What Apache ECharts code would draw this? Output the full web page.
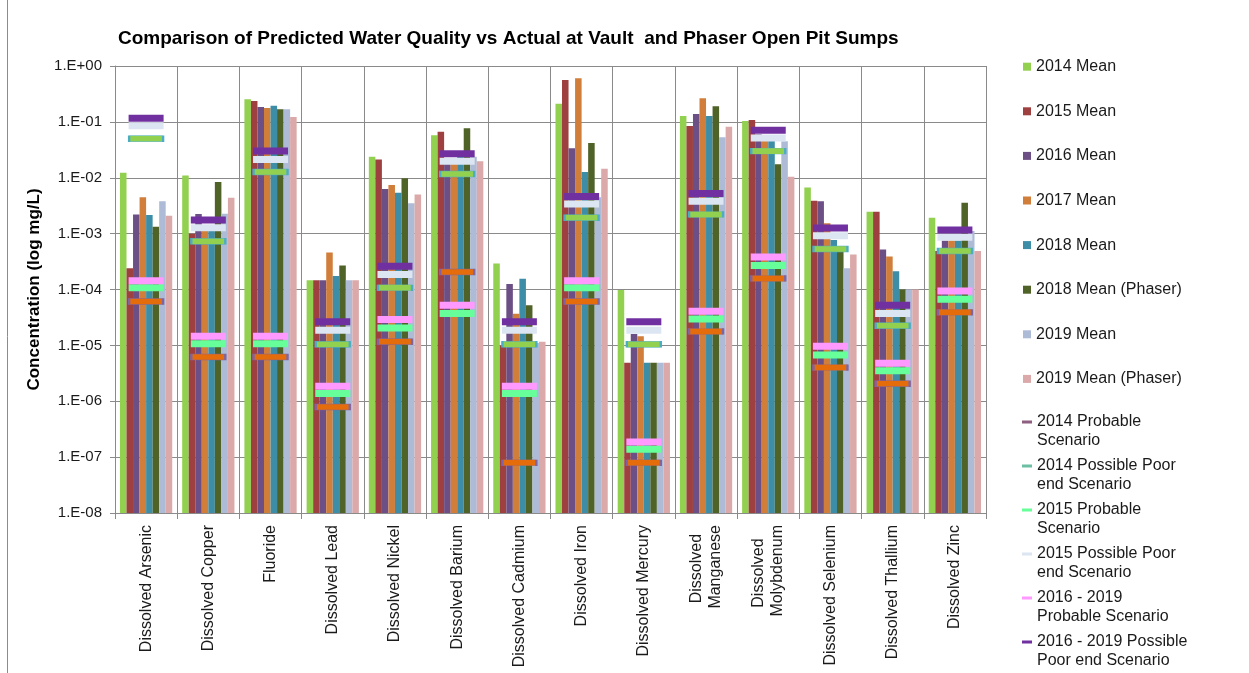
<!DOCTYPE html>
<html>
<head>
<meta charset="utf-8">
<script src="https://cdn.jsdelivr.net/npm/echarts@6/dist/echarts.min.js"></script>
<style>
  html, body { margin: 0; padding: 0; background: #fff; }
  #chart { width: 1249px; height: 673px; }
</style>
</head>
<body>
<div id="chart"></div>
<script>
// Analytes sampled at the sumps
const categories = [
  'Dissolved Arsenic', 'Dissolved Copper', 'Fluoride', 'Dissolved Lead',
  'Dissolved Nickel', 'Dissolved Barium', 'Dissolved Cadmium', 'Dissolved Iron',
  'Dissolved Mercury', 'Dissolved\nManganese', 'Dissolved\nMolybdenum',
  'Dissolved Selenium', 'Dissolved Thallium', 'Dissolved Zinc'
];

// Measured means (mg/L)
const mean2014 = [0.0123, 0.0110, 0.253, 1.46e-4, 0.0238, 0.0574, 2.93e-4, 0.211, 9.8e-5, 0.127, 0.104, 6.7e-3, 2.46e-3, 1.92e-3];
const mean2015 = [2.4e-4, 1.0e-3, 0.236, 1.46e-4, 0.0213, 0.0667, 1.0e-5, 0.561, 4.9e-6, 0.0843, 0.108, 3.87e-3, 2.46e-3, 4.9e-4];
const mean2016 = [2.2e-3, 2.24e-3, 0.184, 1.46e-4, 6.3e-3, 0.022, 1.26e-4, 0.0336, 1.59e-5, 0.138, 0.060, 3.78e-3, 5.2e-4, 7.5e-4];
const mean2017 = [4.46e-3, 1.2e-3, 0.177, 4.6e-4, 7.4e-3, 0.020, 3.7e-5, 0.602, 1.46e-5, 0.264, 0.055, 1.53e-3, 3.9e-4, 7.5e-4];
const mean2018 = [2.15e-3, 1.2e-3, 0.195, 1.74e-4, 5.4e-3, 0.024, 1.56e-4, 0.01265, 4.9e-6, 0.127, 0.050, 7.7e-4, 2.13e-4, 7.5e-4];
const mean2018Phaser = [1.33e-3, 8.4e-3, 0.168, 2.7e-4, 9.8e-3, 0.0766, 5.2e-5, 0.0418, 4.9e-6, 0.190, 0.0174, 5.5e-4, 1.0e-4, 3.57e-3];
const mean2019 = [3.78e-3, 2.27e-3, 0.168, 1.46e-4, 3.48e-3, 0.0238, 1.1e-5, 4.5e-3, 4.9e-6, 0.0529, 0.045, 2.39e-4, 1.0e-4, 1.11e-3];
const mean2019Phaser = [2.09e-3, 4.39e-3, 0.122, 1.46e-4, 5.0e-3, 0.0197, 1.16e-5, 0.0145, 4.9e-6, 0.082, 0.0104, 4.25e-4, 1.0e-4, 4.9e-4];

// Predicted scenarios (mg/L)
const probable2014 = [6.1e-5, 6.2e-6, 6.2e-6, 7.9e-7, 1.16e-5, 2.05e-4, 7.9e-8, 6.1e-5, 7.9e-8, 1.78e-5, 1.58e-4, 4.0e-6, 2.05e-6, 3.9e-5];
const poorEnd2014 = [0.050, 7.3e-4, 0.01265, 1.05e-5, 1.07e-4, 0.01165, 1.05e-5, 1.92e-3, 1.05e-5, 2.21e-3, 0.030, 5.3e-4, 2.24e-5, 4.9e-4];
const probable2015 = [1.07e-4, 1.07e-5, 1.07e-5, 1.38e-6, 2.04e-5, 3.73e-5, 1.38e-6, 1.07e-4, 1.39e-7, 2.95e-5, 2.7e-4, 6.7e-6, 3.5e-6, 6.7e-5];
const poorEnd2015 = [0.085, 1.27e-3, 0.0213, 1.87e-5, 1.86e-4, 0.0197, 1.87e-5, 3.38e-3, 1.87e-5, 3.78e-3, 0.0514, 9.2e-4, 3.73e-5, 8.6e-4];
const probable2016to2019 = [1.43e-4, 1.46e-5, 1.46e-5, 1.86e-6, 2.9e-5, 5.2e-5, 1.86e-6, 1.43e-4, 1.87e-7, 4.1e-5, 3.8e-4, 9.6e-6, 4.8e-6, 9.4e-5];
const poorEnd2016to2019 = [0.116, 1.75e-3, 0.030, 2.64e-5, 2.6e-4, 0.0269, 2.64e-5, 4.64e-3, 2.64e-5, 5.25e-3, 0.0706, 1.26e-3, 5.2e-5, 1.16e-3];

const barSeriesDefs = [
  { name: '2014 Mean', data: mean2014, color: '#92D050' },
  { name: '2015 Mean', data: mean2015, color: '#9E4040' },
  { name: '2016 Mean', data: mean2016, color: '#6C4F85' },
  { name: '2017 Mean', data: mean2017, color: '#D17E3A' },
  { name: '2018 Mean', data: mean2018, color: '#3D8DA6' },
  { name: '2018 Mean (Phaser)', data: mean2018Phaser, color: '#4F6228' },
  { name: '2019 Mean', data: mean2019, color: '#AEBBD7' },
  { name: '2019 Mean (Phaser)', data: mean2019Phaser, color: '#DBA9A9' }
];

const scenarioDefs = [
  { name: '2014 Probable Scenario', label: '2014 Probable\nScenario', data: probable2014,
    fill: '#E46C0A', border: '#8064A2', legendColor: '#8E5F80' },
  { name: '2014 Possible Poor end Scenario', label: '2014 Possible Poor\nend Scenario', data: poorEnd2014,
    fill: '#92D050', border: '#4BACC6', legendColor: '#6DBFA2' },
  { name: '2015 Probable Scenario', label: '2015 Probable\nScenario', data: probable2015,
    fill: '#66FF99', border: null, legendColor: '#66FF99' },
  { name: '2015 Possible Poor end Scenario', label: '2015 Possible Poor\nend Scenario', data: poorEnd2015,
    fill: '#DCE6F2', border: null, legendColor: '#DCE6F2' },
  { name: '2016 - 2019 Probable Scenario', label: '2016 - 2019\nProbable Scenario', data: probable2016to2019,
    fill: '#FF99FF', border: null, legendColor: '#FF99FF' },
  { name: '2016 - 2019 Possible Poor end Scenario', label: '2016 - 2019 Possible\nPoor end Scenario', data: poorEnd2016to2019,
    fill: '#7030A0', border: null, legendColor: '#7030A0' }
];

const FONT = '"Liberation Sans", Arial, sans-serif';
const GRID_COLOR = '#8A8A8A';
const CAT_FONT_SIZE = 16;
const LABEL_COLOR = '#1A1A1A';

function sciLabel(v) {
  const e = Math.round(Math.log10(v));
  const sign = e < 0 ? '-' : '+';
  const abs = Math.abs(e);
  return '1.E' + sign + (abs < 10 ? '0' + abs : String(abs));
}

// Wrapped category names: the labels are end-aligned, so pad the shorter
// line with trailing no-break spaces to centre it under the longer one
const measureCtx = document.createElement('canvas').getContext('2d');
measureCtx.font = CAT_FONT_SIZE + 'px ' + FONT;
const NBSP = '\u00a0';
function categoryLabel(value) {
  if (value.indexOf('\n') < 0) return value;
  const lines = value.split('\n');
  const widths = lines.map(function (l) { return measureCtx.measureText(l).width; });
  const maxW = Math.max.apply(null, widths);
  const spaceW = measureCtx.measureText(NBSP).width || 4.4;
  return lines.map(function (l, i) {
    const n = Math.round((maxW - widths[i]) / 2 / spaceW);
    return l + NBSP.repeat(n);
  }).join('\n');
}

const series = [];
barSeriesDefs.forEach(function (d) {
  series.push({
    name: d.name,
    type: 'bar',
    data: d.data,
    barGap: '0%',
    barCategoryGap: '16%',
    itemStyle: { color: d.color },
    z: 2
  });
});
scenarioDefs.forEach(function (d) {
  series.push({
    name: d.name,
    type: 'scatter',
    data: d.data,
    symbol: 'rect',
    symbolSize: d.border ? [34, 6] : [35, 7],
    itemStyle: d.border
      ? { color: d.fill, borderColor: d.border, borderWidth: 1, opacity: 1 }
      : { color: d.fill, opacity: 1 },
    z: 3
  });
});

const chart = echarts.init(document.getElementById('chart'), null, { renderer: 'canvas' });
chart.setOption({
  backgroundColor: '#ffffff',
  animation: false,
  textStyle: { fontFamily: FONT },
  title: {
    text: 'Comparison of Predicted Water Quality vs Actual at Vault  and Phaser Open Pit Sumps',
    left: 118,
    top: 29,
    padding: 0,
    textStyle: { fontFamily: FONT, fontSize: 19, fontWeight: 'bold', color: '#000' }
  },
  graphic: [{
    type: 'line',
    shape: { x1: 7.5, y1: 0, x2: 7.5, y2: 673 },
    style: { stroke: '#8C8C8C', lineWidth: 1 }
  }],
  legend: [{
    orient: 'vertical',
    left: 1023,
    top: 58.7,
    padding: 0,
    itemGap: 28.6,
    itemWidth: 8,
    itemHeight: 8,
    selectedMode: false,
    textStyle: { fontFamily: FONT, fontSize: 16, lineHeight: 16, color: LABEL_COLOR },
    data: barSeriesDefs.map(function (d) { return { name: d.name, icon: 'rect' }; })
  }, {
    orient: 'vertical',
    left: 1022,
    top: 412.5,
    padding: 0,
    itemGap: 6,
    itemWidth: 10,
    itemHeight: 22,
    selectedMode: false,
    textStyle: { fontFamily: FONT, fontSize: 16, lineHeight: 19, color: LABEL_COLOR },
    formatter: function (name) {
      const d = scenarioDefs.find(function (s) { return s.name === name; });
      return d ? d.label : name;
    },
    data: scenarioDefs.map(function (d) {
      return {
        name: d.name,
        icon: 'path://M0,0L10,0L10,3L0,3Z M0,22L10,22',
        itemStyle: { color: d.legendColor, borderWidth: 0, opacity: 1 }
      };
    })
  }],
  grid: { left: 115, right: 263, top: 66, bottom: 160, containLabel: false },
  xAxis: {
    type: 'category',
    data: categories,
    boundaryGap: true,
    axisLine: { show: true, lineStyle: { color: GRID_COLOR, width: 1 } },
    axisTick: { show: true, inside: false, length: 6, alignWithLabel: false, lineStyle: { color: GRID_COLOR } },
    splitLine: { show: true, interval: 0, lineStyle: { color: GRID_COLOR, width: 1 } },
    axisLabel: {
      interval: 0,
      rotate: 90,
      margin: 12,
      fontFamily: FONT,
      fontSize: CAT_FONT_SIZE,
      lineHeight: 19,
      color: LABEL_COLOR,
      formatter: categoryLabel
    }
  },
  yAxis: {
    type: 'log',
    logBase: 10,
    min: 1e-8,
    max: 1,
    startValue: 1e-8,
    splitNumber: 8,
    name: 'Concentration (log mg/L)',
    nameLocation: 'middle',
    nameGap: 71,
    nameTextStyle: { fontFamily: FONT, fontSize: 17, fontWeight: 'bold', color: '#000' },
    axisLine: { show: true, lineStyle: { color: GRID_COLOR, width: 1 } },
    axisTick: { show: true, inside: false, length: 5, lineStyle: { color: GRID_COLOR } },
    splitLine: { show: true, lineStyle: { color: GRID_COLOR, width: 1 } },
    axisLabel: {
      margin: 13,
      fontFamily: FONT,
      fontSize: 15,
      color: LABEL_COLOR,
      formatter: sciLabel
    }
  },
  series: series
});
</script>
</body>
</html>
